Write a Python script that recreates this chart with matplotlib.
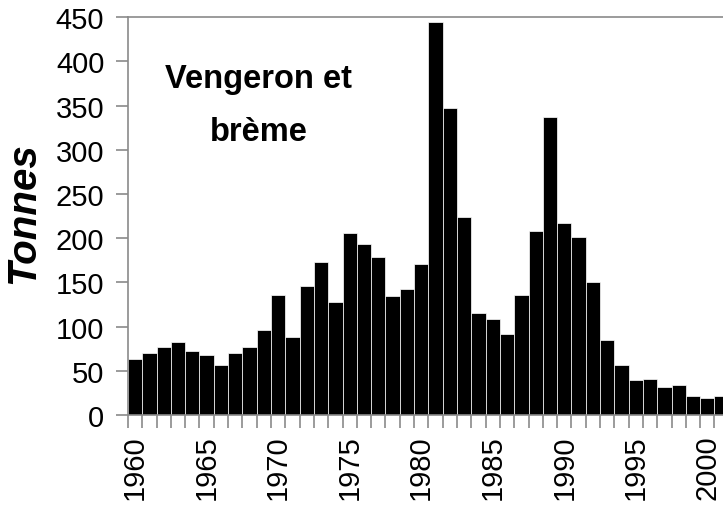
import numpy as np
import matplotlib
matplotlib.use("Agg")
import matplotlib.pyplot as plt

plt.rcParams["font.family"] = ["Liberation Sans", "DejaVu Sans"]

years = list(range(1960, 2002))
tonnes = [63, 70, 77, 83, 72, 68, 57, 70, 77, 96, 136, 88, 146, 173, 128,
          206, 193, 179, 135, 143, 171, 445, 347, 224, 115, 108, 92, 136,
          208, 337, 217, 201, 150, 85, 57, 39, 41, 32, 34, 21, 19, 21]
year_labels = [1960, 1965, 1970, 1975, 1980, 1985, 1990, 1995, 2000]
y_ticks = list(range(0, 451, 50))

fig = plt.figure(figsize=(7.23, 5.06), dpi=100)
ax = fig.add_axes([0.177, 0.178, 0.831, 0.786])

ax.bar(years, tonnes, width=1.0, color="black", edgecolor="white", linewidth=0.5)

ax.set_xlim(1959.5, 2001.5)
ax.set_ylim(0, 450)

grey = "#8a8a8a"
ax.spines["right"].set_visible(False)
for s in ["left", "bottom", "top"]:
    ax.spines[s].set_color(grey)
    ax.spines[s].set_linewidth(1.2)

ax.set_yticks(y_ticks)
ax.tick_params(axis="y", direction="out", length=9, width=1.2, color=grey,
               labelsize=21, pad=8)

# labels at bar centres, tick marks at bar boundaries
ax.set_xticks(year_labels)
ax.set_xticklabels([str(y) for y in year_labels], rotation=90)
ax.set_xticks(np.arange(1959.5, 2002, 1.0), minor=True)
ax.tick_params(axis="x", which="major", length=0, labelsize=21, pad=14)
ax.tick_params(axis="x", which="minor", direction="out", length=9, width=1.2, color=grey)

ax.set_ylabel("Tonnes", fontsize=29, fontweight="bold", fontstyle="italic")
ax.yaxis.set_label_coords(-0.143, 0.51)

ax.text(0.217, 0.78, "Vengeron et\nbrème", transform=ax.transAxes, ha="center",
        va="center", fontsize=23.5, fontweight="bold", linespacing=1.9)

plt.savefig("out.png", dpi=100)
